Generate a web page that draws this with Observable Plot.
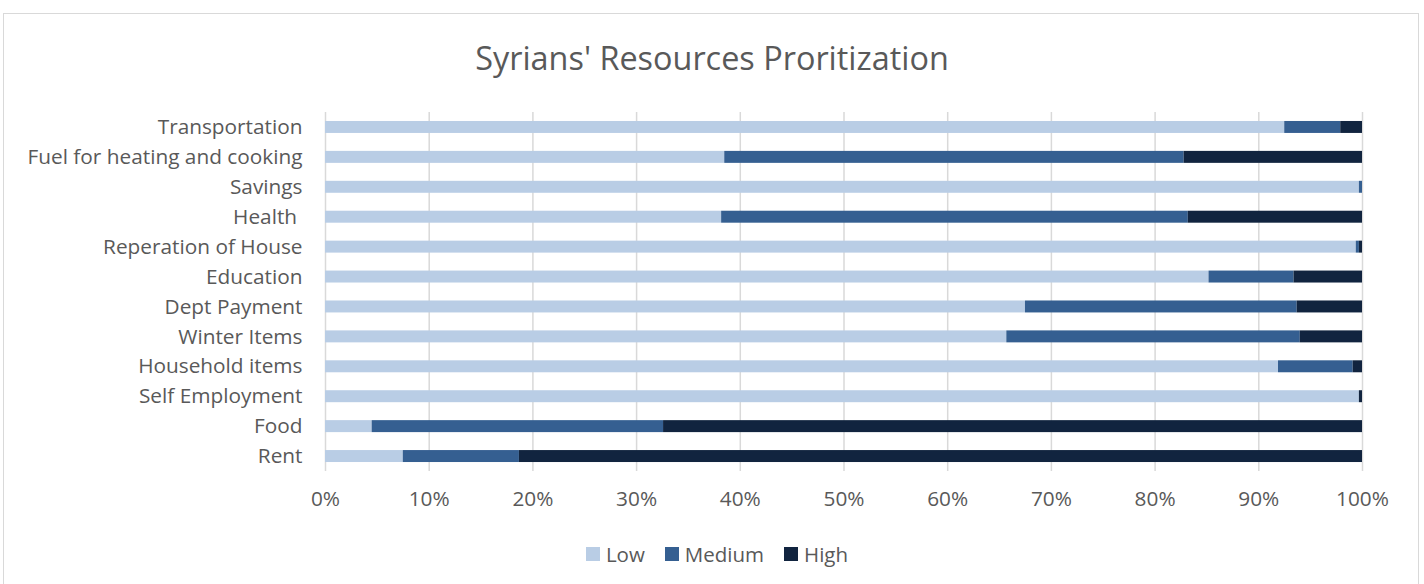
<!DOCTYPE html>
<html>
<head>
<meta charset="utf-8">
<script src="https://cdn.jsdelivr.net/npm/d3@7"></script>
<script src="https://cdn.jsdelivr.net/npm/@observablehq/plot@0.6"></script>
<style>
  html, body { margin: 0; padding: 0; background: #fff; }
  #wrap { position: relative; width: 1424px; height: 584px; overflow: hidden; font-family: "Open Sans", sans-serif; }
  #frame { position: absolute; left: 3px; top: 13px; width: 1416px; height: 600px; border: 1px solid #d9d9d9; box-sizing: border-box; }
  #title { position: absolute; left: 0; width: 1424px; top: 35px; text-align: center; font-size: 32.4px; color: #595959; }
  #chart { position: absolute; left: 0; top: 100px; }
  #legend { position: absolute; left: 5px; width: 1424px; top: 540px; display: flex; justify-content: center; font-size: 20.5px; color: #595959; }
  .item { display: flex; align-items: center; margin: 0 10px; }
  .sw { width: 14px; height: 14px; margin-right: 6px; }
</style>
</head>
<body>
<div id="wrap">
  <div id="frame"></div>
  <div id="title">Syrians' Resources Proritization</div>
  <div id="chart"></div>
  <div id="legend"></div>
</div>
<script>
const categories = ["Transportation", "Fuel for heating and cooking", "Savings", "Health ", "Reperation of House", "Education", "Dept Payment", "Winter Items", "Household items", "Self Employment", "Food", "Rent"];
const levels = ["Low", "Medium", "High"];
const colors = ["#b9cde5", "#355f91", "#11243f"];
const low    = [92.5, 38.5, 99.7, 38.2, 99.4, 85.2, 67.5, 65.7, 91.9, 99.7, 4.5, 7.5];
const medium = [5.4, 44.3, 0.3, 45.0, 0.3, 8.2, 26.2, 28.3, 7.2, 0.0, 28.1, 11.2];
const high   = [2.1, 17.2, 0.0, 16.8, 0.3, 6.6, 6.3, 6.0, 0.9, 0.3, 67.4, 81.3];
const xTicks = [0, 10, 20, 30, 40, 50, 60, 70, 80, 90, 100];

const series = [low, medium, high];
const rows = [];
levels.forEach((lv, i) => categories.forEach((c, j) => rows.push({category: c, level: lv, value: series[i][j]})));

const chart = Plot.plot({
  width: 1424,
  height: 425,
  marginLeft: 325,
  marginRight: 62,
  marginTop: 12,
  marginBottom: 54,
  style: {fontFamily: "'Open Sans', sans-serif", fontSize: "20.8px", color: "#595959", background: "transparent"},
  x: {domain: [0, 100], ticks: xTicks, tickFormat: d => d + "%", tickSize: 0, tickPadding: 20, label: null},
  y: {domain: categories, tickSize: 0, tickPadding: 23, label: null, paddingInner: 0.6, paddingOuter: 0.3, round: false},
  color: {domain: levels, range: colors},
  marks: [
    Plot.ruleX(xTicks, {stroke: "#d9d9d9", strokeWidth: 1.5, strokeOpacity: 1}),
    Plot.barX(rows, Plot.stackX({x: "value", y: "category", fill: "level", order: levels}))
  ]
});
chart.querySelectorAll("[aria-label='y-axis tick label'] text, [aria-label='x-axis tick label'] text").forEach(t => t.setAttribute("fill", "#595959"));
document.getElementById("chart").appendChild(chart);

const leg = document.getElementById("legend");
levels.forEach((lv, i) => {
  const it = document.createElement("div");
  it.className = "item";
  const sw = document.createElement("div");
  sw.className = "sw";
  sw.style.background = colors[i];
  const tx = document.createElement("span");
  tx.textContent = lv;
  it.appendChild(sw); it.appendChild(tx);
  leg.appendChild(it);
});
</script>
</body>
</html>
